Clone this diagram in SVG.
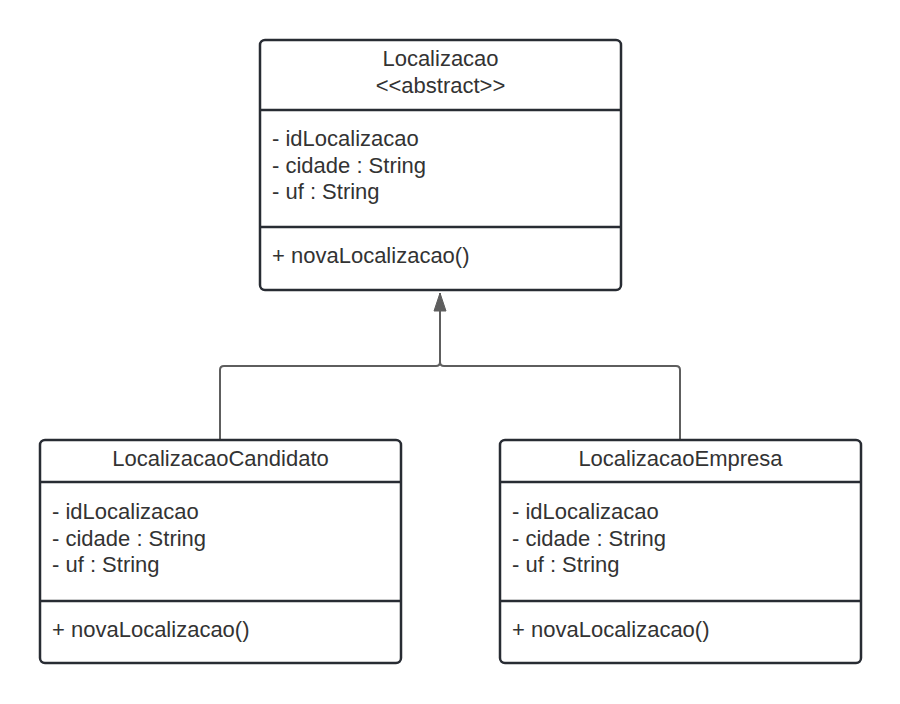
<svg xmlns="http://www.w3.org/2000/svg" width="900" height="704" viewBox="0 0 900 704">
<style>
.box{fill:#ffffff;stroke:#282c33;stroke-width:2.5}
.div{stroke:#282c33;stroke-width:2.5}
.t{font-family:"Liberation Sans",Arial,sans-serif;font-size:22px;fill:#333333}
.c{text-anchor:middle}
.conn{fill:none;stroke:#5e5e5e;stroke-width:2}
</style>
<defs>
<marker id="tri" markerWidth="20" markerHeight="14" refX="19" refY="7" orient="auto" markerUnits="userSpaceOnUse" viewBox="0 0 20 14">
<polygon points="19,7 1,1 1,13" fill="#5e5e5e" stroke="#5e5e5e" stroke-width="1"/>
</marker>
</defs>
<rect width="900" height="704" fill="#ffffff"/>
<g id="connectors">
<path class="conn" d="M220,440 V370 Q220,366 224,366 H436 Q440,366 440,362 Q440,366 444,366 H676 Q680,366 680,370 V440"/>
<path class="conn" d="M440,362 V293" marker-end="url(#tri)"/>
</g>
<g id="Localizacao">
<rect class="box" x="260" y="40" width="361" height="250" rx="5"/>
<line class="div" x1="260" y1="110" x2="621" y2="110"/>
<line class="div" x1="260" y1="227" x2="621" y2="227"/>
<text class="t c" x="440.5" y="66">Localizacao</text>
<text class="t c" x="440.5" y="93">&lt;&lt;abstract&gt;&gt;</text>
<text class="t" x="272" y="146">- idLocalizacao</text>
<text class="t" x="272" y="172.5">- cidade : String</text>
<text class="t" x="272" y="199">- uf : String</text>
<text class="t" x="272" y="263">+ novaLocalizacao()</text>
</g>
<g id="LocalizacaoCandidato">
<rect class="box" x="40" y="440" width="361" height="223" rx="5"/>
<line class="div" x1="40" y1="482" x2="401" y2="482"/>
<line class="div" x1="40" y1="601" x2="401" y2="601"/>
<text class="t c" x="220.5" y="466">LocalizacaoCandidato</text>
<text class="t" x="52" y="519">- idLocalizacao</text>
<text class="t" x="52" y="545.5">- cidade : String</text>
<text class="t" x="52" y="572">- uf : String</text>
<text class="t" x="52" y="637">+ novaLocalizacao()</text>
</g>
<g id="LocalizacaoEmpresa">
<rect class="box" x="500" y="440" width="361" height="223" rx="5"/>
<line class="div" x1="500" y1="482" x2="861" y2="482"/>
<line class="div" x1="500" y1="601" x2="861" y2="601"/>
<text class="t c" x="680.5" y="466">LocalizacaoEmpresa</text>
<text class="t" x="512" y="519">- idLocalizacao</text>
<text class="t" x="512" y="545.5">- cidade : String</text>
<text class="t" x="512" y="572">- uf : String</text>
<text class="t" x="512" y="637">+ novaLocalizacao()</text>
</g>
</svg>
